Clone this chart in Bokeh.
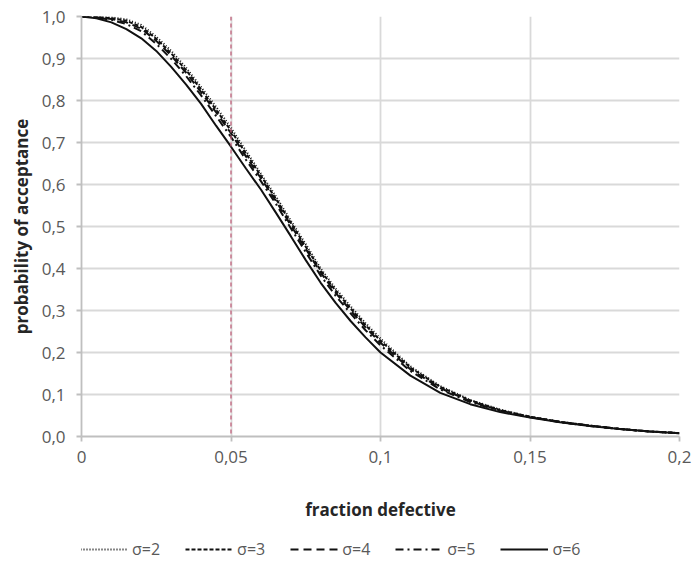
from bokeh.plotting import figure
from bokeh.layouts import column
from bokeh.models import Span, Legend, LegendItem, FixedTicker, ColumnDataSource
from bokeh.embed import file_html
from bokeh.resources import INLINE

# fraction defective
x = [0.0, 0.005, 0.01, 0.015, 0.02, 0.025, 0.03, 0.035, 0.04, 0.045, 0.05,
     0.055, 0.06, 0.065, 0.07, 0.075, 0.08, 0.085, 0.09, 0.095, 0.10,
     0.11, 0.12, 0.13, 0.14, 0.15, 0.16, 0.17, 0.18, 0.19, 0.20]

sigma2 = [1.000, 1.000, 0.998, 0.993, 0.980, 0.952, 0.918, 0.878, 0.832, 0.785, 0.735,
          0.680, 0.626, 0.572, 0.514, 0.458, 0.400, 0.352, 0.310, 0.270, 0.233,
          0.167, 0.120, 0.087, 0.064, 0.047, 0.035, 0.026, 0.018, 0.012, 0.008]
sigma3 = [1.000, 0.999, 0.996, 0.990, 0.975, 0.947, 0.912, 0.872, 0.826, 0.778, 0.728,
          0.674, 0.621, 0.566, 0.509, 0.452, 0.395, 0.347, 0.305, 0.265, 0.228,
          0.164, 0.118, 0.086, 0.063, 0.047, 0.035, 0.026, 0.018, 0.012, 0.008]
sigma4 = [1.000, 0.999, 0.994, 0.986, 0.971, 0.942, 0.907, 0.866, 0.820, 0.772, 0.722,
          0.667, 0.615, 0.561, 0.503, 0.447, 0.390, 0.342, 0.300, 0.260, 0.223,
          0.160, 0.115, 0.084, 0.062, 0.046, 0.035, 0.026, 0.018, 0.012, 0.008]
sigma5 = [1.000, 0.998, 0.992, 0.982, 0.965, 0.935, 0.899, 0.858, 0.812, 0.763, 0.713,
          0.659, 0.608, 0.554, 0.496, 0.439, 0.383, 0.335, 0.293, 0.253, 0.217,
          0.156, 0.112, 0.082, 0.061, 0.046, 0.034, 0.025, 0.018, 0.012, 0.008]
sigma6 = [1.000, 0.996, 0.986, 0.970, 0.948, 0.918, 0.880, 0.838, 0.792, 0.740, 0.690,
          0.638, 0.588, 0.533, 0.477, 0.420, 0.366, 0.318, 0.275, 0.236, 0.200,
          0.145, 0.104, 0.077, 0.058, 0.045, 0.034, 0.025, 0.018, 0.012, 0.008]

series_names = ["σ=2", "σ=3", "σ=4", "σ=5", "σ=6"]
series = [sigma2, sigma3, sigma4, sigma5, sigma6]
dashes = ["1 2", "4 2", "8 5", "8 4 2 4", "solid"]
widths = [2, 2, 2, 2, 2]

x_ticks = [0.0, 0.05, 0.1, 0.15, 0.2]
x_tick_labels = ["0", "0,05", "0,1", "0,15", "0,2"]
y_ticks = [round(0.1 * i, 1) for i in range(11)]
y_tick_labels = ["0,0", "0,1", "0,2", "0,3", "0,4", "0,5", "0,6", "0,7", "0,8", "0,9", "1,0"]
spec_limit = 0.05

FONT = "Open Sans"
GRID = "#d9d9d9"
TXT = "#595959"
LINE = "#111111"

p = figure(width=695, height=530, output_backend="svg", toolbar_location=None,
           x_range=(0, 0.2), y_range=(0, 1.0))
p.min_border_left = 81
p.min_border_right = 16
p.min_border_top = 16
p.min_border_bottom = 94
p.outline_line_color = None
p.background_fill_color = "white"
p.border_fill_color = "white"

# grids
p.xgrid.ticker = FixedTicker(ticks=[0.05, 0.1, 0.15, 0.2])
p.ygrid.ticker = FixedTicker(ticks=y_ticks)
p.xgrid.grid_line_color = GRID
p.ygrid.grid_line_color = GRID
p.xgrid.grid_line_width = 1.8
p.ygrid.grid_line_width = 1.8

# axes
p.xaxis.ticker = FixedTicker(ticks=x_ticks)
p.yaxis.ticker = FixedTicker(ticks=y_ticks)
p.xaxis.major_label_overrides = {t: l for t, l in zip(x_ticks, x_tick_labels)}
p.yaxis.major_label_overrides = {t: l for t, l in zip(y_ticks, y_tick_labels)}
for ax in (p.xaxis, p.yaxis):
    ax.axis_line_color = "#bfbfbf"
    ax.axis_line_width = 1.8
    ax.major_tick_line_color = "#bfbfbf"
    ax.major_tick_line_width = 1.8
    ax.major_tick_in = 0
    ax.major_tick_out = 5
    ax.minor_tick_line_color = None
    ax.major_label_text_font = FONT
    ax.major_label_text_font_size = "17px"
    ax.major_label_text_color = TXT
    ax.axis_label_text_font = FONT
    ax.axis_label_text_font_size = "17px"
    ax.axis_label_text_font_style = "bold"
    ax.axis_label_text_color = "#262626"
p.xaxis.major_label_standoff = 9
p.yaxis.major_label_standoff = 11
p.xaxis.axis_label = "fraction defective"
p.yaxis.axis_label = "probability of acceptance"
p.xaxis.axis_label_standoff = 32
p.yaxis.axis_label_standoff = 6

# reference line
p.add_layout(Span(location=spec_limit, dimension="height", line_color="#c0607a",
                  line_dash="4 3", line_width=1.3))

for ys, d, w in zip(series, dashes, widths):
    src = ColumnDataSource(dict(x=x, y=ys))
    p.line("x", "y", source=src, line_color=LINE, line_width=w, line_dash=d)

# legend strip below the chart (renderers hidden; only their legend glyphs show)
q = figure(width=695, height=34, output_backend="svg", toolbar_location=None,
           x_range=(0, 1), y_range=(0, 1), x_axis_location=None, y_axis_location=None,
           min_border=0)
q.outline_line_color = None
q.grid.visible = False
items = []
for name, ys, d, w in zip(series_names, series, dashes, widths):
    r = q.line(x=x, y=ys, line_color=LINE, line_width=w, line_dash=d, visible=False)
    items.append(LegendItem(label=name, renderers=[r]))
legend = Legend(items=items, orientation="horizontal", location=(-1, 4),
                label_text_font=FONT, label_text_font_size="16px", label_text_color=TXT,
                glyph_width=48, glyph_height=16, spacing=25, label_standoff=4,
                border_line_color=None, background_fill_alpha=0, padding=0, margin=0,
                inactive_fill_alpha=0, click_policy="none")
q.add_layout(legend)

open("out.html", "w").write(file_html(column(p, q, spacing=0), INLINE))
